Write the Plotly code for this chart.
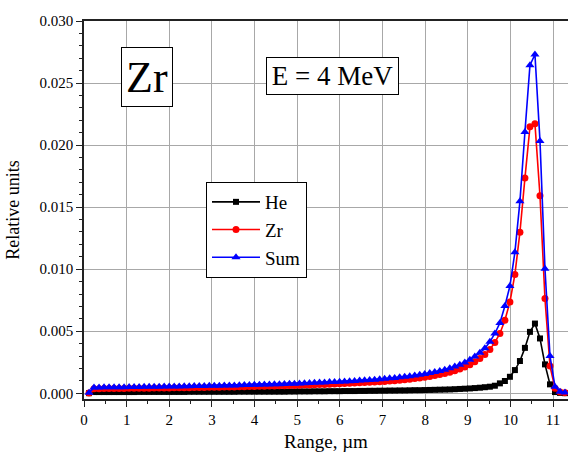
import plotly.graph_objects as go

range_um = [0.118, 0.235, 0.353, 0.470, 0.588, 0.705, 0.823, 0.940, 1.058, 1.175,
            1.293, 1.410, 1.528, 1.645, 1.763, 1.880, 1.998, 2.115, 2.233, 2.350,
            2.468, 2.585, 2.703, 2.820, 2.938, 3.055, 3.173, 3.290, 3.408, 3.525,
            3.643, 3.760, 3.878, 3.995, 4.113, 4.230, 4.348, 4.465, 4.583, 4.700,
            4.818, 4.935, 5.053, 5.170, 5.288, 5.405, 5.523, 5.640, 5.758, 5.875,
            5.993, 6.110, 6.228, 6.345, 6.463, 6.580, 6.698, 6.815, 6.933, 7.050,
            7.168, 7.285, 7.403, 7.520, 7.638, 7.755, 7.873, 7.990, 8.108, 8.225,
            8.343, 8.460, 8.578, 8.695, 8.813, 8.930, 9.048, 9.165, 9.283, 9.400,
            9.518, 9.635, 9.753, 9.870, 9.988, 10.105, 10.223, 10.340, 10.458, 10.575,
            10.693, 10.810, 10.928, 11.045, 11.163, 11.280]

he = [0.00001, 0.00010, 0.00010, 0.00010, 0.00010, 0.00010, 0.00010, 0.00010, 0.00010, 0.00010,
      0.00011, 0.00011, 0.00011, 0.00011, 0.00011, 0.00011, 0.00011, 0.00011, 0.00011, 0.00011,
      0.00012, 0.00012, 0.00012, 0.00012, 0.00012, 0.00012, 0.00012, 0.00012, 0.00012, 0.00012,
      0.00013, 0.00013, 0.00013, 0.00013, 0.00013, 0.00013, 0.00013, 0.00013, 0.00013, 0.00013,
      0.00014, 0.00014, 0.00015, 0.00015, 0.00015, 0.00016, 0.00016, 0.00016, 0.00017, 0.00017,
      0.00017, 0.00018, 0.00018, 0.00018, 0.00019, 0.00019, 0.00020, 0.00020, 0.00021, 0.00021,
      0.00022, 0.00022, 0.00023, 0.00023, 0.00024, 0.00025, 0.00025, 0.00026, 0.00027, 0.00028,
      0.00029, 0.00030, 0.00031, 0.00033, 0.00035, 0.00037, 0.00039, 0.00042, 0.00045, 0.00049,
      0.00053, 0.00061, 0.00080, 0.00099, 0.00133, 0.00187, 0.00260, 0.00366, 0.00495, 0.00562,
      0.00442, 0.00233, 0.00072, 0.00010, 0.00003, 0.00001]

zr = [0.00003, 0.00036, 0.00037, 0.00038, 0.00038, 0.00039, 0.00039, 0.00039, 0.00040, 0.00040,
      0.00040, 0.00041, 0.00041, 0.00042, 0.00042, 0.00043, 0.00043, 0.00044, 0.00044, 0.00045,
      0.00045, 0.00046, 0.00046, 0.00047, 0.00048, 0.00048, 0.00049, 0.00050, 0.00050, 0.00051,
      0.00052, 0.00053, 0.00054, 0.00055, 0.00056, 0.00057, 0.00058, 0.00059, 0.00060, 0.00061,
      0.00062, 0.00063, 0.00064, 0.00066, 0.00067, 0.00068, 0.00070, 0.00071, 0.00073, 0.00074,
      0.00076, 0.00078, 0.00080, 0.00082, 0.00084, 0.00086, 0.00088, 0.00090, 0.00093, 0.00096,
      0.00099, 0.00102, 0.00106, 0.00110, 0.00114, 0.00119, 0.00124, 0.00130, 0.00136, 0.00143,
      0.00151, 0.00160, 0.00170, 0.00182, 0.00196, 0.00212, 0.00231, 0.00254, 0.00281, 0.00313,
      0.00353, 0.00410, 0.00482, 0.00589, 0.00736, 0.00958, 0.01298, 0.01734, 0.02147, 0.02173,
      0.01592, 0.00763, 0.00219, 0.00040, 0.00010, 0.00005]

total = [0.00004, 0.00046, 0.00047, 0.00048, 0.00048, 0.00049, 0.00049, 0.00049, 0.00050, 0.00050,
         0.00051, 0.00052, 0.00052, 0.00053, 0.00053, 0.00054, 0.00054, 0.00055, 0.00055, 0.00056,
         0.00057, 0.00058, 0.00058, 0.00059, 0.00060, 0.00060, 0.00061, 0.00062, 0.00062, 0.00063,
         0.00065, 0.00066, 0.00067, 0.00068, 0.00069, 0.00070, 0.00071, 0.00072, 0.00073, 0.00074,
         0.00076, 0.00077, 0.00079, 0.00081, 0.00082, 0.00084, 0.00086, 0.00087, 0.00090, 0.00091,
         0.00093, 0.00096, 0.00098, 0.00100, 0.00103, 0.00105, 0.00108, 0.00110, 0.00114, 0.00117,
         0.00121, 0.00124, 0.00129, 0.00133, 0.00138, 0.00144, 0.00149, 0.00156, 0.00163, 0.00171,
         0.00180, 0.00190, 0.00201, 0.00215, 0.00231, 0.00249, 0.00270, 0.00296, 0.00326, 0.00362,
         0.00415, 0.00482, 0.00567, 0.00704, 0.00864, 0.01137, 0.01547, 0.02106, 0.02644, 0.02730,
         0.02034, 0.01004, 0.00300, 0.00053, 0.00013, 0.00006]

x_ticks = [0, 1, 2, 3, 4, 5, 6, 7, 8, 9, 10, 11]
y_ticks = [0.000, 0.005, 0.010, 0.015, 0.020, 0.025, 0.030]

FONT = "Liberation Serif, Times New Roman, serif"

fig = go.Figure()
fig.add_trace(go.Scatter(x=range_um, y=he, name="He", mode="lines+markers",
                         line=dict(color="black", width=1.6),
                         marker=dict(symbol="square", size=6, color="black")))
fig.add_trace(go.Scatter(x=range_um, y=zr, name="Zr", mode="lines+markers",
                         line=dict(color="red", width=1.6),
                         marker=dict(symbol="circle", size=7, color="red")))
fig.add_trace(go.Scatter(x=range_um, y=total, name="Sum", mode="lines+markers",
                         line=dict(color="blue", width=1.6),
                         marker=dict(symbol="triangle-up", size=8, color="blue")))

fig.update_layout(
    width=568, height=452,
    margin=dict(l=84, r=0, t=21, b=53, autoexpand=False),
    paper_bgcolor="white", plot_bgcolor="white",
    font=dict(family=FONT, size=15, color="black"),
    legend=dict(x=(206 - 84) / 484, y=(399 - 182) / 378, xanchor="left", yanchor="top",
                bgcolor="white", bordercolor="black", borderwidth=1,
                font=dict(family=FONT, size=19, color="black"),
                itemwidth=48, tracegroupgap=0),
    xaxis=dict(range=[0, 11.35], tickvals=x_ticks, ticktext=[str(v) for v in x_ticks],
               automargin=False,
               showgrid=True, gridcolor="#a8a8a8", gridwidth=1, zeroline=False,
               showline=True, linecolor="#222222", linewidth=1.5, mirror=True,
               ticks="outside", ticklen=6, tickwidth=1.2, tickcolor="#222222",
               minor=dict(ticks="outside", ticklen=3, dtick=0.5, tick0=0, tickcolor="#222222", showgrid=False),
               title=dict(text="Range, µm", font=dict(family=FONT, size=19)),
               tickfont=dict(family=FONT, size=15)),
    yaxis=dict(range=[-0.00046, 0.030], tickvals=y_ticks, ticktext=["%.3f" % v for v in y_ticks],
               automargin=False,
               showgrid=True, gridcolor="#a8a8a8", gridwidth=1, zeroline=False,
               showline=True, linecolor="#222222", linewidth=1.5,
               ticks="outside", ticklen=6, tickwidth=1.2, tickcolor="#222222",
               minor=dict(ticks="outside", ticklen=3, dtick=0.001, tick0=0, tickcolor="#222222", showgrid=False),
               title=dict(text="Relative units", font=dict(family=FONT, size=18)),
               tickfont=dict(family=FONT, size=15)),
)

fig.add_annotation(xref="paper", yref="paper", x=(147 - 84) / 484, y=(399 - 77.5) / 378,
                   xanchor="center", yanchor="middle",
                   text="Zr", showarrow=False, font=dict(family=FONT, size=44, color="black"),
                   bgcolor="white", bordercolor="black", borderwidth=1,
                   width=48, height=56, borderpad=1)
fig.add_annotation(xref="paper", yref="paper", x=(332.5 - 84) / 484, y=(399 - 75.7) / 378,
                   xanchor="center", yanchor="middle",
                   text="E = 4 MeV", showarrow=False, font=dict(family=FONT, size=27, color="black"),
                   bgcolor="white", bordercolor="black", borderwidth=1,
                   width=129, height=34, borderpad=1)

fig.write_html("out.html", config={"displayModeBar": False},
               post_script="document.body.style.margin='0';document.body.style.overflow='hidden';")
